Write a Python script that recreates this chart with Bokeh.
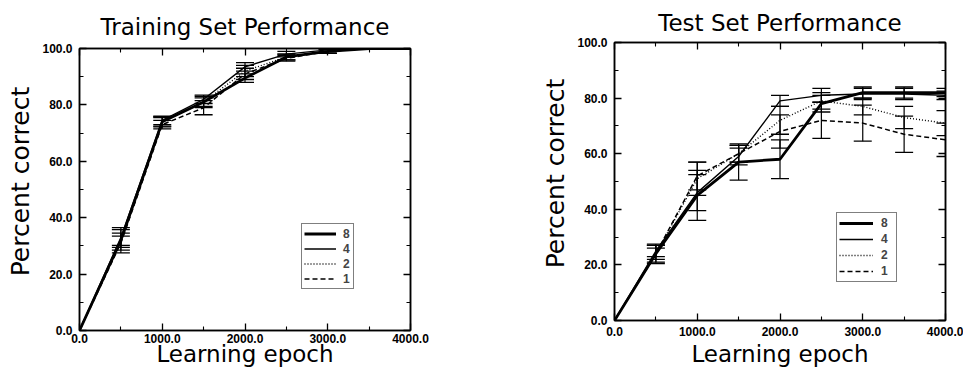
from bokeh.plotting import figure
from bokeh.layouts import row, column
from bokeh.models import (Range1d, FixedTicker, LinearAxis, PrintfTickFormatter, Whisker, TeeHead,
                          ColumnDataSource, Legend, LegendItem)
from bokeh.embed import file_html
from bokeh.resources import INLINE

# ---------------- data ----------------
epochs = [0, 500, 1000, 1500, 2000, 2500, 3000, 3500, 4000]
series_names = ["8", "4", "2", "1"]

train_8 = [0, 32, 74, 81, 89.5, 97, 99, 100, 100]
train_4 = [0, 33, 74.5, 82, 93.5, 98, 99.5, 100, 100]
train_2 = [0, 32, 74, 81, 92, 97, 99, 100, 100]
train_1 = [0, 31, 73, 79, 91, 96.5, 99, 100, 100]
train_err_8 = [0, 4.5, 1.8, 1.5, 1.5, 1, 0.7, 0.3, 0.2]
train_err_4 = [0, 2.8, 1.5, 1.5, 1.5, 1, 0.7, 0.3, 0.2]
train_err_2 = [0, 2.5, 1.5, 2, 2, 1, 0.7, 0.3, 0.2]
train_err_1 = [0, 2.5, 1.5, 2.5, 2, 1, 0.7, 0.3, 0.2]

test_8 = [0, 24, 45, 57, 58, 78, 82, 82, 82]
test_4 = [0, 25, 46, 59, 79, 81, 81.5, 81.5, 81]
test_2 = [0, 24, 51, 60, 72, 79, 77, 73, 71]
test_1 = [0, 24, 52, 60, 68, 72, 71, 67, 65]
test_err_8 = [0, 3, 9, 6.5, 7, 3, 2, 2, 1.5]
test_err_4 = [0, 2, 6.5, 3, 2, 2.5, 2, 2, 1.5]
test_err_2 = [0, 2, 6, 3, 5, 3, 3, 4, 4.5]
test_err_1 = [0, 3.5, 5, 3, 6, 6.5, 6.5, 6.5, 6]

x_ticks = [0, 1000, 2000, 3000, 4000]
x_minor = [500, 1500, 2500, 3500]
y_ticks = [0, 20, 40, 60, 80, 100]
y_minor = [10, 30, 50, 70, 90]

styles = {
    "8": dict(line_width=2.8),
    "4": dict(line_width=1.4),
    "2": dict(line_width=1.4, line_dash="1 2"),
    "1": dict(line_width=1.5, line_dash="5 3"),
}

TITLE_FONT = "DejaVu Sans"
TICK_FONT = "Liberation Sans"
NB = "\u00a0"


def make_panel(title, means, errs, width, height, borders, cfg):
    bl, br, bt, bb = borders
    p = figure(width=width, height=height, output_backend="svg", toolbar_location=None,
               x_range=Range1d(0, 4000), y_range=Range1d(0, 100),
               min_border_left=bl, min_border_right=br, min_border_top=bt, min_border_bottom=bb,
               x_axis_type=None, y_axis_type=None, title=title)
    p.title.text_font = TITLE_FONT
    p.title.text_font_size = "23px"
    p.title.text_font_style = "normal"
    p.title.text_color = "black"
    p.title.align = "center"
    p.title.standoff = cfg["title_standoff"]
    p.title.offset = cfg["title_offset"]
    p.grid.visible = False
    p.outline_line_color = "black"
    p.outline_line_width = 1.5
    p.background_fill_color = "white"
    p.border_fill_color = "white"

    xt = FixedTicker(ticks=x_ticks, minor_ticks=x_minor)
    yt = FixedTicker(ticks=y_ticks, minor_ticks=y_minor)

    def style_axis(ax, labels):
        ax.axis_line_color = "black"
        ax.axis_line_width = 1.5
        ax.major_tick_in = 7
        ax.major_tick_out = 0
        ax.minor_tick_in = 4
        ax.minor_tick_out = 0
        ax.major_tick_line_width = 1.3
        ax.minor_tick_line_width = 1.1
        ax.formatter = PrintfTickFormatter(format="%.1f")
        if labels:
            ax.major_label_text_font = TICK_FONT
            ax.major_label_text_font_size = "12px"
            ax.major_label_text_font_style = "bold"
            ax.major_label_text_color = "black"
            ax.axis_label_text_font = TITLE_FONT
            ax.axis_label_text_font_style = "normal"
            ax.axis_label_text_color = "black"
        else:
            ax.major_label_text_font_size = "1px"
            ax.major_label_text_alpha = 0
            ax.major_label_standoff = 0

    xb = LinearAxis(ticker=xt, axis_label="Learning epoch")
    style_axis(xb, True)
    xb.axis_label_text_font_size = "23px"
    xb.major_label_standoff = cfg["x_std"]
    xb.axis_label_standoff = cfg["xlab_std"]
    p.add_layout(xb, "below")

    yl = LinearAxis(ticker=yt, axis_label=NB * 2 + "Percent correct")
    style_axis(yl, True)
    yl.axis_label_text_font_size = "25px"
    yl.major_label_standoff = 7
    yl.axis_label_standoff = cfg["ylab_std"]
    p.add_layout(yl, "left")

    xa = LinearAxis(ticker=xt); style_axis(xa, False); p.add_layout(xa, "above")
    yr = LinearAxis(ticker=yt); style_axis(yr, False); p.add_layout(yr, "right")

    items = []
    for name in series_names:
        m = means[name]
        e = errs[name]
        r = p.line(epochs, m, line_color="black", **styles[name])
        items.append(LegendItem(label=name, renderers=[r]))
        xs = [x for x, ee in zip(epochs, e) if ee > 0]
        lo = [mm - ee for mm, ee in zip(m, e) if ee > 0]
        hi = [mm + ee for mm, ee in zip(m, e) if ee > 0]
        src = ColumnDataSource(dict(x=xs, lower=lo, upper=hi))
        w = Whisker(base="x", lower="lower", upper="upper", source=src,
                    line_color="black", line_width=1.2,
                    upper_head=TeeHead(size=18, line_color="black", line_width=1.3),
                    lower_head=TeeHead(size=18, line_color="black", line_width=1.3))
        p.add_layout(w)

    gw, lh, stand, lw = cfg["legend_dims"]
    leg = Legend(items=items, location=cfg["legend_loc"], orientation="vertical",
                 label_text_font=TICK_FONT, label_text_font_size="12px", label_text_font_style="bold",
                 glyph_width=gw, glyph_height=lh, label_height=lh, label_width=lw,
                 spacing=0, padding=2, margin=0,
                 label_standoff=stand, border_line_color="black", border_line_width=1.5,
                 background_fill_alpha=1.0)
    p.add_layout(leg)
    return p


train_means = dict(zip(series_names, [train_8, train_4, train_2, train_1]))
train_errs = dict(zip(series_names, [train_err_8, train_err_4, train_err_2, train_err_1]))
test_means = dict(zip(series_names, [test_8, test_4, test_2, test_1]))
test_errs = dict(zip(series_names, [test_err_8, test_err_4, test_err_2, test_err_1]))

cfg1 = dict(title_standoff=17, title_offset=-6, x_std=3, xlab_std=-5, ylab_std=4,
            legend_loc=(222, 41), legend_dims=(32, 15, 7, 8))
cfg2 = dict(title_standoff=14, title_offset=-7, x_std=6, xlab_std=2, ylab_std=4,
            legend_loc=(222, 38), legend_dims=(34, 16, 8, 13))

p1 = make_panel("Training Set Performance", train_means, train_errs, 480, 379, (79, 70, 48, 49), cfg1)
p2 = make_panel("Test Set Performance", test_means, test_errs, 483, 379, (134, 18, 41, 59), cfg2)

layout = row(column(p1), column(p2))
open("out.html", "w").write(file_html(layout, INLINE))
